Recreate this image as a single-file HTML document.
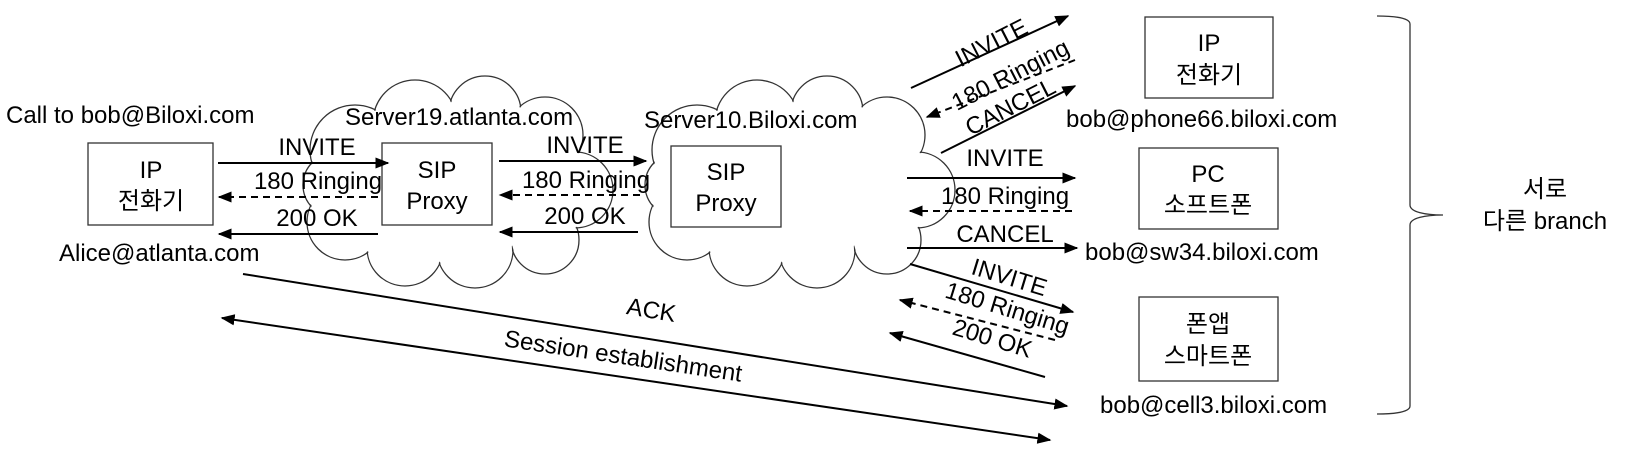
<!DOCTYPE html>
<html><head><meta charset="utf-8"><style>
html,body{margin:0;padding:0;background:#fff;}
svg{display:block;font-family:"Liberation Sans","Noto Sans CJK KR",sans-serif;}
</style></head><body>
<svg width="1631" height="470" viewBox="0 0 1631 470" xmlns="http://www.w3.org/2000/svg">
<defs>
<marker id="b" viewBox="0 0 10 10" refX="9" refY="5" markerWidth="14" markerHeight="14" markerUnits="userSpaceOnUse" orient="auto-start-reverse"><path d="M0,1 L10,5 L0,9 z" fill="#000"/></marker>
<g id="cloud">
<g fill="none" stroke="#333" stroke-width="1.3">
<circle cx="370" cy="150" r="45"/><circle cx="430" cy="122" r="42"/><circle cx="500" cy="112" r="36"/><circle cx="560" cy="135" r="38"/><circle cx="590" cy="190" r="38"/><circle cx="560" cy="240" r="34"/><circle cx="490" cy="250" r="38"/><circle cx="420" cy="248" r="38"/><circle cx="360" cy="222" r="38"/><circle cx="350" cy="185" r="32"/>
</g>
<g fill="#fff">
<circle cx="370" cy="150" r="44"/><circle cx="430" cy="122" r="41"/><circle cx="500" cy="112" r="35"/><circle cx="560" cy="135" r="37"/><circle cx="590" cy="190" r="37"/><circle cx="560" cy="240" r="33"/><circle cx="490" cy="250" r="37"/><circle cx="420" cy="248" r="37"/><circle cx="360" cy="222" r="37"/><circle cx="350" cy="185" r="31"/>
<ellipse cx="470" cy="185" rx="115" ry="70"/>
</g>
</g>
</defs>
<use href="#cloud" transform="translate(-15,0)"/>
<use href="#cloud" transform="translate(327,0)"/>

<g font-size="24" fill="#000">
<text x="6" y="123">Call to bob@Biloxi.com</text>
<text x="59" y="261">Alice@atlanta.com</text>
<text x="345" y="125">Server19.atlanta.com</text>
<text x="644" y="128">Server10.Biloxi.com</text>
<text x="1066" y="127">bob@phone66.biloxi.com</text>
<text x="1085" y="260">bob@sw34.biloxi.com</text>
<text x="1100" y="413">bob@cell3.biloxi.com</text>
</g>

<g fill="#fff" stroke="#333" stroke-width="1.3">
<rect x="88" y="143" width="125" height="82"/>
<rect x="382" y="143" width="110" height="82"/>
<rect x="671" y="146" width="110" height="81"/>
<rect x="1145" y="17" width="128" height="81"/>
<rect x="1139" y="148" width="139" height="81"/>
<rect x="1139" y="297" width="139" height="84"/>
</g>
<g font-size="24" text-anchor="middle">
<text x="151" y="178">IP</text><text x="151" y="209">전화기</text>
<text x="437" y="178">SIP</text><text x="437" y="209">Proxy</text>
<text x="726" y="180">SIP</text><text x="726" y="211">Proxy</text>
<text x="1209" y="51">IP</text><text x="1209" y="83">전화기</text>
<text x="1208" y="182">PC</text><text x="1208" y="213">소프트폰</text>
<text x="1208" y="332">폰앱</text><text x="1208" y="364">스마트폰</text>
<text x="1545" y="197">서로</text><text x="1545" y="229">다른 branch</text>
</g>

<g stroke="#000" stroke-width="2" fill="none">
<line x1="218" y1="163" x2="388" y2="163" marker-end="url(#b)"/>
<line x1="378" y1="197" x2="219" y2="197" stroke-dasharray="7,5" marker-end="url(#b)"/>
<line x1="378" y1="234" x2="219" y2="234" marker-end="url(#b)"/>
<line x1="499" y1="161" x2="646" y2="161" marker-end="url(#b)"/>
<line x1="640" y1="195" x2="500" y2="195" stroke-dasharray="7,5" marker-end="url(#b)"/>
<line x1="638" y1="232" x2="500" y2="232" marker-end="url(#b)"/>
<line x1="911" y1="88" x2="1068" y2="16" marker-end="url(#b)"/>
<line x1="1075" y1="60" x2="927" y2="117" stroke-dasharray="7,5" marker-end="url(#b)"/>
<line x1="941" y1="153" x2="1075" y2="86" marker-end="url(#b)"/>
<line x1="907" y1="178" x2="1075" y2="178" marker-end="url(#b)"/>
<line x1="1072" y1="211" x2="910" y2="211" stroke-dasharray="7,5" marker-end="url(#b)"/>
<line x1="907" y1="248" x2="1077" y2="248" marker-end="url(#b)"/>
<line x1="910" y1="264" x2="1073" y2="312" marker-end="url(#b)"/>
<line x1="1055" y1="340" x2="900" y2="300" stroke-dasharray="7,5" marker-end="url(#b)"/>
<line x1="1045" y1="377" x2="890" y2="333" marker-end="url(#b)"/>
<line x1="243" y1="274" x2="1067" y2="406" marker-end="url(#b)"/>
<line x1="222" y1="318" x2="1050" y2="440" marker-start="url(#b)" marker-end="url(#b)"/>
</g>

<g font-size="24" text-anchor="middle">
<text x="317" y="155">INVITE</text>
<text x="318" y="189">180 Ringing</text>
<text x="317" y="226">200 OK</text>
<text x="585" y="153">INVITE</text>
<text x="586" y="188">180 Ringing</text>
<text x="585" y="224">200 OK</text>
<text x="1005" y="166">INVITE</text>
<text x="1005" y="204">180 Ringing</text>
<text x="1005" y="242">CANCEL</text>
<text transform="translate(995,50) rotate(-27)">INVITE</text>
<text transform="translate(1014,82) rotate(-27)">180 Ringing</text>
<text transform="translate(1014,114) rotate(-27)">CANCEL</text>
<text transform="translate(1007,285) rotate(17)">INVITE</text>
<text transform="translate(1005,316) rotate(17)">180 Ringing</text>
<text transform="translate(990,346) rotate(17)">200 OK</text>
<text transform="translate(650,318) rotate(9.5)">ACK</text>
<text transform="translate(622,364) rotate(8.5)">Session establishment</text>
</g>

<path d="M1377,16 C1395,16 1410,18 1410,24 L1410,205 C1410,212 1425,215 1443,215 C1425,215 1410,218 1410,225 L1410,406 C1410,412 1395,414 1377,414" fill="none" stroke="#333" stroke-width="1.3"/>
</svg>
</body></html>
